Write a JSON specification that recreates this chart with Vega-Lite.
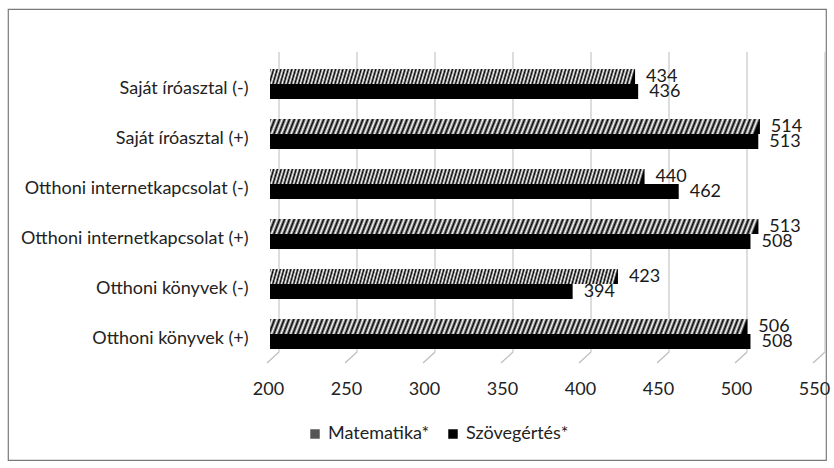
{
  "$schema": "https://vega.github.io/schema/vega-lite/v6.json",
  "width": 818,
  "height": 451,
  "autosize": {"type": "none"},
  "padding": {"left": 8, "top": 9, "right": 8, "bottom": 8},
  "background": "#ffffff",
  "config": {
    "font": "Lato",
    "view": {"stroke": "#7a7a7a", "strokeWidth": 1.2},
    "text": {"font": "Lato"},
    "axisX": {
      "grid": false,
      "domain": false,
      "ticks": true,
      "tickOpacity": 0,
      "tickSize": 8,
      "labelOffset": -2,
      "labelFlush": false,
      "offset": -101,
      "labelPadding": 13,
      "labelFontSize": 18,
      "labelColor": "#222222",
      "labelFont": "Lato"
    },
    "axisY": {
      "domain": false,
      "ticks": false,
      "tickSize": 0,
      "grid": false,
      "offset": -260,
      "labelPadding": 20,
      "labelOffset": 5,
      "labelFontSize": 18,
      "labelColor": "#222222",
      "labelFont": "Lato",
      "labelLimit": 400
    }
  },
  "datasets": {
    "scores": [
      {"cat": "Saját íróasztal (-)", "subject": "Matematika*", "value": 434},
      {"cat": "Saját íróasztal (-)", "subject": "Szövegértés*", "value": 436},
      {"cat": "Saját íróasztal (+)", "subject": "Matematika*", "value": 514},
      {"cat": "Saját íróasztal (+)", "subject": "Szövegértés*", "value": 513},
      {"cat": "Otthoni internetkapcsolat (-)", "subject": "Matematika*", "value": 440},
      {"cat": "Otthoni internetkapcsolat (-)", "subject": "Szövegértés*", "value": 462},
      {"cat": "Otthoni internetkapcsolat (+)", "subject": "Matematika*", "value": 513},
      {"cat": "Otthoni internetkapcsolat (+)", "subject": "Szövegértés*", "value": 508},
      {"cat": "Otthoni könyvek (-)", "subject": "Matematika*", "value": 423},
      {"cat": "Otthoni könyvek (-)", "subject": "Szövegértés*", "value": 394},
      {"cat": "Otthoni könyvek (+)", "subject": "Matematika*", "value": 506},
      {"cat": "Otthoni könyvek (+)", "subject": "Szövegértés*", "value": 508}
    ],
    "ticks": [
      {"v": 200}, {"v": 250}, {"v": 300}, {"v": 350}, {"v": 400}, {"v": 450}, {"v": 500}, {"v": 550}
    ]
  },
  "data": {"name": "scores"},
  "layer": [
    {
      "data": {"name": "ticks"},
      "mark": {"type": "rule", "color": "#c6c6c6", "strokeWidth": 1.2, "xOffset": 9, "yOffset": -32, "y2Offset": 18},
      "encoding": {
        "x": {"field": "v", "type": "quantitative", "title": null, "axis": {"values": [200, 250, 300, 350, 400, 450, 500, 550]}},
        "y": {"datum": "Saját íróasztal (-)", "type": "nominal", "title": null},
        "y2": {"datum": "Otthoni könyvek (+)"}
      }
    },
    {
      "data": {"name": "ticks"},
      "mark": {"type": "rule", "color": "#bdbdbd", "strokeWidth": 1.2, "xOffset": 9, "x2Offset": -3, "yOffset": 18, "y2Offset": 29},
      "encoding": {
        "x": {"field": "v", "type": "quantitative", "title": null, "axis": {"values": [200, 250, 300, 350, 400, 450, 500, 550]}},
        "x2": {"field": "v"},
        "y": {"datum": "Otthoni könyvek (+)", "type": "nominal", "title": null},
        "y2": {"datum": "Otthoni könyvek (+)"}
      }
    },
    {
      "mark": {"type": "text", "align": "left", "baseline": "middle", "dx": 11, "fontSize": 18, "color": "#1a1a1a"},
      "encoding": {
        "x": {"field": "value", "type": "quantitative", "title": null, "axis": {"values": [200, 250, 300, 350, 400, 450, 500, 550]}},
        "y": {"field": "cat", "type": "nominal", "title": null},
        "yOffset": {"field": "subject", "type": "nominal", "sort": ["Matematika*", "Szövegértés*"]},
        "text": {"field": "value", "type": "quantitative"}
      }
    },
    {
      "mark": {"type": "bar"},
      "encoding": {
        "y": {
          "field": "cat",
          "type": "nominal",
          "title": null,
          "scale": {
            "domain": ["Saját íróasztal (-)", "Saját íróasztal (+)", "Otthoni internetkapcsolat (-)", "Otthoni internetkapcsolat (+)", "Otthoni könyvek (-)", "Otthoni könyvek (+)"],
            "range": [50, 350],
            "paddingInner": 0.4,
            "paddingOuter": 0.2
          }
        },
        "yOffset": {"field": "subject", "type": "nominal", "sort": ["Matematika*", "Szövegértés*"]},
        "x": {
          "field": "value",
          "type": "quantitative",
          "title": null,
          "scale": {"domain": [200, 550], "range": [262, 808], "nice": false, "zero": false},
          "axis": {"values": [200, 250, 300, 350, 400, 450, 500, 550]}
        },
        "x2": {"datum": 200},
        "fill": {
          "field": "subject",
          "type": "nominal",
          "sort": ["Matematika*", "Szövegértés*"],
          "scale": {"range": ["#555555", "#000000"]},
          "legend": {
            "title": null,
            "orient": "none",
            "legendX": 298,
            "legendY": 416,
            "direction": "horizontal",
            "symbolType": "square",
            "symbolSize": 90,
            "symbolStrokeWidth": 0,
            "labelFontSize": 18,
            "labelFont": "Lato",
            "labelColor": "#222222",
            "labelOffset": 4,
            "columnPadding": 14
          }
        }
      }
    },
    {
      "transform": [{"filter": "datum.subject === 'Matematika*'"}],
      "mark": {
        "type": "bar",
        "fill": {
          "gradient": "linear",
          "x1": 0, "y1": 0, "x2": 1, "y2": 0.012,
          "stops": [
            {"offset":0,"color":"#000"},{"offset":0.005,"color":"#fff"},{"offset":0.01,"color":"#000"},{"offset":0.015,"color":"#fff"},{"offset":0.02,"color":"#000"},{"offset":0.025,"color":"#fff"},{"offset":0.03,"color":"#000"},{"offset":0.035,"color":"#fff"},{"offset":0.04,"color":"#000"},{"offset":0.045,"color":"#fff"},
            {"offset":0.05,"color":"#000"},{"offset":0.055,"color":"#fff"},{"offset":0.06,"color":"#000"},{"offset":0.065,"color":"#fff"},{"offset":0.07,"color":"#000"},{"offset":0.075,"color":"#fff"},{"offset":0.08,"color":"#000"},{"offset":0.085,"color":"#fff"},{"offset":0.09,"color":"#000"},{"offset":0.095,"color":"#fff"},
            {"offset":0.1,"color":"#000"},{"offset":0.105,"color":"#fff"},{"offset":0.11,"color":"#000"},{"offset":0.115,"color":"#fff"},{"offset":0.12,"color":"#000"},{"offset":0.125,"color":"#fff"},{"offset":0.13,"color":"#000"},{"offset":0.135,"color":"#fff"},{"offset":0.14,"color":"#000"},{"offset":0.145,"color":"#fff"},
            {"offset":0.15,"color":"#000"},{"offset":0.155,"color":"#fff"},{"offset":0.16,"color":"#000"},{"offset":0.165,"color":"#fff"},{"offset":0.17,"color":"#000"},{"offset":0.175,"color":"#fff"},{"offset":0.18,"color":"#000"},{"offset":0.185,"color":"#fff"},{"offset":0.19,"color":"#000"},{"offset":0.195,"color":"#fff"},
            {"offset":0.2,"color":"#000"},{"offset":0.205,"color":"#fff"},{"offset":0.21,"color":"#000"},{"offset":0.215,"color":"#fff"},{"offset":0.22,"color":"#000"},{"offset":0.225,"color":"#fff"},{"offset":0.23,"color":"#000"},{"offset":0.235,"color":"#fff"},{"offset":0.24,"color":"#000"},{"offset":0.245,"color":"#fff"},
            {"offset":0.25,"color":"#000"},{"offset":0.255,"color":"#fff"},{"offset":0.26,"color":"#000"},{"offset":0.265,"color":"#fff"},{"offset":0.27,"color":"#000"},{"offset":0.275,"color":"#fff"},{"offset":0.28,"color":"#000"},{"offset":0.285,"color":"#fff"},{"offset":0.29,"color":"#000"},{"offset":0.295,"color":"#fff"},
            {"offset":0.3,"color":"#000"},{"offset":0.305,"color":"#fff"},{"offset":0.31,"color":"#000"},{"offset":0.315,"color":"#fff"},{"offset":0.32,"color":"#000"},{"offset":0.325,"color":"#fff"},{"offset":0.33,"color":"#000"},{"offset":0.335,"color":"#fff"},{"offset":0.34,"color":"#000"},{"offset":0.345,"color":"#fff"},
            {"offset":0.35,"color":"#000"},{"offset":0.355,"color":"#fff"},{"offset":0.36,"color":"#000"},{"offset":0.365,"color":"#fff"},{"offset":0.37,"color":"#000"},{"offset":0.375,"color":"#fff"},{"offset":0.38,"color":"#000"},{"offset":0.385,"color":"#fff"},{"offset":0.39,"color":"#000"},{"offset":0.395,"color":"#fff"},
            {"offset":0.4,"color":"#000"},{"offset":0.405,"color":"#fff"},{"offset":0.41,"color":"#000"},{"offset":0.415,"color":"#fff"},{"offset":0.42,"color":"#000"},{"offset":0.425,"color":"#fff"},{"offset":0.43,"color":"#000"},{"offset":0.435,"color":"#fff"},{"offset":0.44,"color":"#000"},{"offset":0.445,"color":"#fff"},
            {"offset":0.45,"color":"#000"},{"offset":0.455,"color":"#fff"},{"offset":0.46,"color":"#000"},{"offset":0.465,"color":"#fff"},{"offset":0.47,"color":"#000"},{"offset":0.475,"color":"#fff"},{"offset":0.48,"color":"#000"},{"offset":0.485,"color":"#fff"},{"offset":0.49,"color":"#000"},{"offset":0.495,"color":"#fff"},
            {"offset":0.5,"color":"#000"},{"offset":0.505,"color":"#fff"},{"offset":0.51,"color":"#000"},{"offset":0.515,"color":"#fff"},{"offset":0.52,"color":"#000"},{"offset":0.525,"color":"#fff"},{"offset":0.53,"color":"#000"},{"offset":0.535,"color":"#fff"},{"offset":0.54,"color":"#000"},{"offset":0.545,"color":"#fff"},
            {"offset":0.55,"color":"#000"},{"offset":0.555,"color":"#fff"},{"offset":0.56,"color":"#000"},{"offset":0.565,"color":"#fff"},{"offset":0.57,"color":"#000"},{"offset":0.575,"color":"#fff"},{"offset":0.58,"color":"#000"},{"offset":0.585,"color":"#fff"},{"offset":0.59,"color":"#000"},{"offset":0.595,"color":"#fff"},
            {"offset":0.6,"color":"#000"},{"offset":0.605,"color":"#fff"},{"offset":0.61,"color":"#000"},{"offset":0.615,"color":"#fff"},{"offset":0.62,"color":"#000"},{"offset":0.625,"color":"#fff"},{"offset":0.63,"color":"#000"},{"offset":0.635,"color":"#fff"},{"offset":0.64,"color":"#000"},{"offset":0.645,"color":"#fff"},
            {"offset":0.65,"color":"#000"},{"offset":0.655,"color":"#fff"},{"offset":0.66,"color":"#000"},{"offset":0.665,"color":"#fff"},{"offset":0.67,"color":"#000"},{"offset":0.675,"color":"#fff"},{"offset":0.68,"color":"#000"},{"offset":0.685,"color":"#fff"},{"offset":0.69,"color":"#000"},{"offset":0.695,"color":"#fff"},
            {"offset":0.7,"color":"#000"},{"offset":0.705,"color":"#fff"},{"offset":0.71,"color":"#000"},{"offset":0.715,"color":"#fff"},{"offset":0.72,"color":"#000"},{"offset":0.725,"color":"#fff"},{"offset":0.73,"color":"#000"},{"offset":0.735,"color":"#fff"},{"offset":0.74,"color":"#000"},{"offset":0.745,"color":"#fff"},
            {"offset":0.75,"color":"#000"},{"offset":0.755,"color":"#fff"},{"offset":0.76,"color":"#000"},{"offset":0.765,"color":"#fff"},{"offset":0.77,"color":"#000"},{"offset":0.775,"color":"#fff"},{"offset":0.78,"color":"#000"},{"offset":0.785,"color":"#fff"},{"offset":0.79,"color":"#000"},{"offset":0.795,"color":"#fff"},
            {"offset":0.8,"color":"#000"},{"offset":0.805,"color":"#fff"},{"offset":0.81,"color":"#000"},{"offset":0.815,"color":"#fff"},{"offset":0.82,"color":"#000"},{"offset":0.825,"color":"#fff"},{"offset":0.83,"color":"#000"},{"offset":0.835,"color":"#fff"},{"offset":0.84,"color":"#000"},{"offset":0.845,"color":"#fff"},
            {"offset":0.85,"color":"#000"},{"offset":0.855,"color":"#fff"},{"offset":0.86,"color":"#000"},{"offset":0.865,"color":"#fff"},{"offset":0.87,"color":"#000"},{"offset":0.875,"color":"#fff"},{"offset":0.88,"color":"#000"},{"offset":0.885,"color":"#fff"},{"offset":0.89,"color":"#000"},{"offset":0.895,"color":"#fff"},
            {"offset":0.9,"color":"#000"},{"offset":0.905,"color":"#fff"},{"offset":0.91,"color":"#000"},{"offset":0.915,"color":"#fff"},{"offset":0.92,"color":"#000"},{"offset":0.925,"color":"#fff"},{"offset":0.93,"color":"#000"},{"offset":0.935,"color":"#fff"},{"offset":0.94,"color":"#000"},{"offset":0.945,"color":"#fff"},
            {"offset":0.95,"color":"#000"},{"offset":0.955,"color":"#fff"},{"offset":0.96,"color":"#000"},{"offset":0.965,"color":"#fff"},{"offset":0.97,"color":"#000"},{"offset":0.975,"color":"#fff"},{"offset":0.98,"color":"#000"},{"offset":0.985,"color":"#fff"},{"offset":0.99,"color":"#000"},{"offset":0.995,"color":"#fff"},
            {"offset":1,"color":"#000"}
          ]
        }
      },
      "encoding": {
        "y": {"field": "cat", "type": "nominal", "title": null},
        "yOffset": {"field": "subject", "type": "nominal", "sort": ["Matematika*", "Szövegértés*"]},
        "x": {"field": "value", "type": "quantitative", "title": null, "axis": {"values": [200, 250, 300, 350, 400, 450, 500, 550]}},
        "x2": {"datum": 200}
      }
    }
  ]
}
